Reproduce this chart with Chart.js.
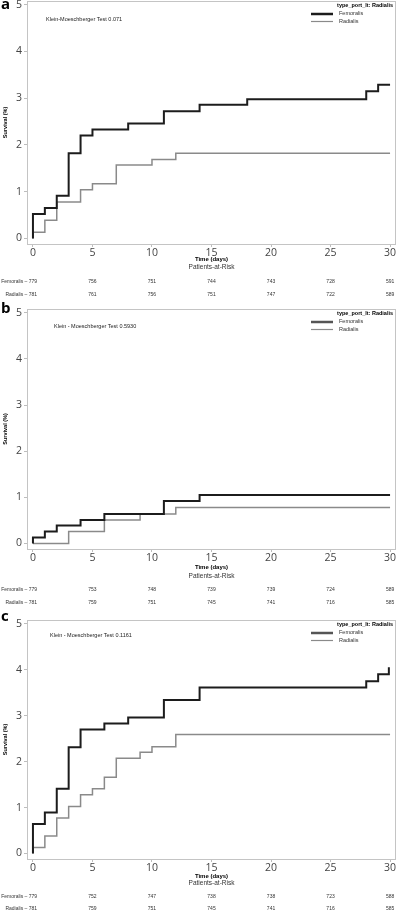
<!DOCTYPE html>
<html lang="en">
<head>
<meta charset="UTF-8">
<title>Cumulative incidence: Femoralis vs Radialis</title>
<script src="https://cdn.jsdelivr.net/npm/chart.js"></script>
<style>
  body { margin: 0; background: #fff; }
  .panel { position: absolute; left: 0; }
</style>
</head>
<body>
<canvas id="chartA" class="panel" width="397" height="300" style="top:0px"></canvas>
<canvas id="chartB" class="panel" width="397" height="310" style="top:300px"></canvas>
<canvas id="chartC" class="panel" width="397" height="312" style="top:605px"></canvas>

<script>
// tick labels
const dayTicks = [0, 5, 10, 15, 20, 25, 30];
const pctTicks = [0, 1, 2, 3, 4, 5];
const groups = ['Femoralis', 'Radialis'];

// panel a
const femA_days = [0, 0, 1, 2, 3, 4, 5, 8, 11, 14, 18, 28, 29, 30];
const femA_pct  = [0, 0.52, 0.65, 0.91, 1.82, 2.2, 2.33, 2.46, 2.72, 2.86, 2.98, 3.15, 3.29, 3.29];
const radA_days = [0, 0, 1, 2, 4, 5, 7, 10, 12, 30];
const radA_pct  = [0, 0.13, 0.39, 0.78, 1.04, 1.17, 1.57, 1.69, 1.82, 1.82];
const riskA_fem = [779, 756, 751, 744, 743, 728, 591];
const riskA_rad = [781, 761, 756, 751, 747, 722, 589];

// panel b
const femB_days = [0, 0, 1, 2, 4, 6, 11, 14, 30];
const femB_pct  = [0, 0.13, 0.26, 0.39, 0.51, 0.64, 0.92, 1.05, 1.05];
const radB_days = [0, 3, 6, 9, 12, 30];
const radB_pct  = [0, 0.26, 0.51, 0.64, 0.78, 0.78];
const riskB_fem = [779, 753, 748, 739, 739, 724, 589];
const riskB_rad = [781, 759, 751, 745, 741, 716, 585];

// panel c
const femC_days = [0, 0, 1, 2, 3, 4, 6, 8, 11, 14, 28, 29, 29.9];
const femC_pct  = [0, 0.64, 0.89, 1.41, 2.31, 2.7, 2.83, 2.96, 3.34, 3.61, 3.75, 3.9, 4.05];
const radC_days = [0, 0, 1, 2, 3, 4, 5, 6, 7, 9, 10, 12, 30];
const radC_pct  = [0, 0.13, 0.38, 0.77, 1.02, 1.28, 1.41, 1.66, 2.07, 2.2, 2.32, 2.59, 2.59];
const riskC_fem = [779, 752, 747, 738, 738, 723, 588];
const riskC_rad = [781, 759, 751, 745, 741, 716, 585];

const SMALL = '"Liberation Sans", Arial, sans-serif';

// draws frame, letter, test text, legend and the at-risk table
const kmDecor = {
  id: 'kmDecor',
  beforeDatasetsDraw(chart) {
    const ctx = chart.ctx, a = chart.chartArea;
    ctx.save();
    ctx.strokeStyle = '#c4c4c4';
    ctx.lineWidth = 1;
    ctx.strokeRect(Math.round(a.left) + 0.5, Math.round(a.top) + 0.5,
                   Math.round(a.right - a.left) - 1, Math.round(a.bottom - a.top));
    ctx.restore();
  },
  afterDraw(chart, args, o) {
    const ctx = chart.ctx, a = chart.chartArea, xs = chart.scales.x;
    ctx.save();

    // panel letter
    ctx.fillStyle = '#000';
    ctx.font = 'bold 15px "Open Sans", sans-serif';
    ctx.textAlign = 'left';
    ctx.textBaseline = 'alphabetic';
    ctx.fillText(o.letter, 1, o.letterY);

    // test text
    ctx.fillStyle = '#222';
    ctx.font = '5.5px ' + SMALL;
    ctx.textBaseline = 'middle';
    ctx.fillText(o.test, o.testX, a.top + o.testDy);

    // legend
    ctx.textAlign = 'right';
    ctx.font = 'bold 5.5px ' + SMALL;
    ctx.fillStyle = '#000';
    ctx.fillText('type_port_lt: Radialis', a.right - 3, a.top + 4.5);
    ctx.textAlign = 'left';
    ctx.font = '5.5px ' + SMALL;
    chart.data.datasets.forEach((ds, i) => {
      const y = a.top + 13 + i * 7.5;
      ctx.strokeStyle = o.legendColors[i];
      ctx.lineWidth = o.legendWidths[i];
      ctx.beginPath();
      ctx.moveTo(a.right - 85, y);
      ctx.lineTo(a.right - 63, y);
      ctx.stroke();
      ctx.fillStyle = '#333';
      ctx.fillText(ds.label, a.right - 57, y - 0.5);
    });

    // y title
    ctx.save();
    ctx.translate(5, (a.top + a.bottom) / 2);
    ctx.rotate(-Math.PI / 2);
    ctx.textAlign = 'center';
    ctx.font = 'bold 5.5px ' + SMALL;
    ctx.fillStyle = '#000';
    ctx.fillText('Survival (%)', 0, 0);
    ctx.restore();

    // x title and table header
    const cx = (a.left + a.right) / 2;
    ctx.textAlign = 'center';
    ctx.fillStyle = '#000';
    ctx.font = 'bold 6px ' + SMALL;
    ctx.fillText('Time (days)', cx, a.bottom + o.timeDy);
    ctx.fillStyle = '#333';
    ctx.font = '6.5px ' + SMALL;
    ctx.fillText('Patients-at-Risk', cx, a.bottom + o.parDy);

    // at-risk rows
    ctx.font = '5px ' + SMALL;
    ctx.fillStyle = '#333';
    o.risk.forEach((row, i) => {
      const y = a.bottom + o.rowDy[i];
      row.forEach((n, j) => {
        ctx.textAlign = 'center';
        ctx.fillText(String(n), xs.getPixelForValue(dayTicks[j]), y);
      });
      const x0 = xs.getPixelForValue(dayTicks[0]) - ctx.measureText(String(row[0])).width / 2;
      ctx.textAlign = 'right';
      ctx.fillText(groups[i] + ' \u2013 ', x0, y);
    });

    ctx.restore();
  }
};

function pts(days, pct) {
  return days.map((d, i) => ({ x: d, y: pct[i] }));
}

function makePanel(id, fem, rad, risk, deco, lay) {
  const femColor = '#1c1c1c', radColor = '#8a8a8a';
  new Chart(document.getElementById(id).getContext('2d'), {
    type: 'line',
    data: {
      datasets: [
        { label: groups[0], data: fem, borderColor: femColor, borderWidth: 2,
          stepped: true, pointRadius: 0, fill: false },
        { label: groups[1], data: rad, borderColor: radColor, borderWidth: 1.5,
          stepped: true, pointRadius: 0, fill: false }
      ]
    },
    options: {
      responsive: false,
      animation: false,
      devicePixelRatio: 1,
      layout: { padding: { left: 0, right: 1, top: lay.padTop, bottom: lay.padBottom } },
      plugins: {
        legend: { display: false },
        tooltip: { enabled: false },
        kmDecor: Object.assign({
          risk: risk,
          legendColors: [lay.legendFem, '#8a8a8a'],
          legendWidths: [2.5, 1.2]
        }, deco)
      },
      scales: {
        x: {
          type: 'linear', min: -0.5, max: 30.5,
          afterBuildTicks: s => { s.ticks = dayTicks.map(v => ({ value: v })); },
          afterFit: s => { s.height = 14; s.paddingLeft = 0; s.paddingRight = 0; },
          grid: { drawOnChartArea: false, tickLength: 3, color: '#bdbdbd' },
          border: { display: false },
          ticks: { autoSkip: false, maxRotation: 0, padding: 0, color: '#444',
                   font: { family: 'Open Sans', size: 10.5 } }
        },
        y: {
          type: 'linear', min: -0.12, max: 5.08,
          afterBuildTicks: s => { s.ticks = pctTicks.map(v => ({ value: v })); },
          afterFit: s => { s.width = 27; s.paddingTop = 0; s.paddingBottom = 0; },
          grid: { drawOnChartArea: false, tickLength: 3, color: '#bdbdbd' },
          border: { display: false },
          ticks: { padding: 2, color: '#444', font: { family: 'Open Sans', size: 10.5 } }
        }
      }
    },
    plugins: [kmDecor]
  });
}

makePanel('chartA', pts(femA_days, femA_pct), pts(radA_days, radA_pct), [riskA_fem, riskA_rad],
  { letter: 'a', letterY: 9, test: 'Klein-Moeschberger Test 0.071', testX: 46, testDy: 18,
    timeDy: 15, parDy: 23, rowDy: [38, 51] },
  { padTop: 1, padBottom: 42, legendFem: '#1c1c1c' });

makePanel('chartB', pts(femB_days, femB_pct), pts(radB_days, radB_pct), [riskB_fem, riskB_rad],
  { letter: 'b', letterY: 13, test: 'Klein - Moeschberger Test 0.5930', testX: 54, testDy: 17,
    timeDy: 18, parDy: 27, rowDy: [41, 54] },
  { padTop: 9, padBottom: 47, legendFem: '#555' });

makePanel('chartC', pts(femC_days, femC_pct), pts(radC_days, radC_pct), [riskC_fem, riskC_rad],
  { letter: 'c', letterY: 16, test: 'Klein - Moeschberger Test 0.1161', testX: 50, testDy: 15,
    timeDy: 17, parDy: 24, rowDy: [38, 50] },
  { padTop: 15, padBottom: 44, legendFem: '#555' });
</script>
</body>
</html>
